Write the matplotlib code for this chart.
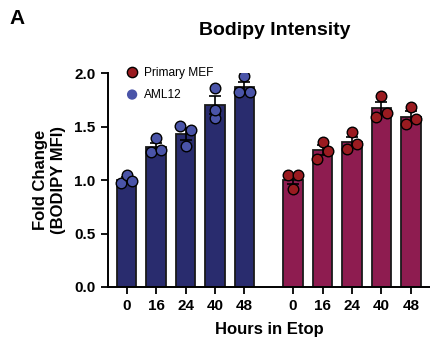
import numpy as np
import matplotlib
matplotlib.use("Agg")
import matplotlib.pyplot as plt

plt.rcParams['font.family'] = ['Liberation Sans', 'DejaVu Sans']
plt.rcParams['font.weight'] = 'bold'

hours = ["0", "16", "24", "40", "48"]
aml12_reps = [
    [0.975, 1.045, 0.995],
    [1.26, 1.39, 1.28],
    [1.51, 1.32, 1.47],
    [1.58, 1.86, 1.66],
    [1.82, 1.97, 1.82],
]
mef_reps = [
    [1.05, 0.915, 1.045],
    [1.20, 1.36, 1.275],
    [1.29, 1.45, 1.34],
    [1.59, 1.79, 1.63],
    [1.52, 1.685, 1.575],
]
legend_labels = ["Primary MEF", "AML12"]

bar_blue = "#292C6E"
pt_blue = "#4A54A8"
bar_red = "#8E1C50"
pt_red = "#9A1B20"

fig = plt.figure(figsize=(4.3, 3.5), dpi=100)
ax = fig.add_axes([0.251, 0.18, 0.749, 0.611])

gap = 0.65
x_blue = np.arange(len(hours))
x_red = np.arange(len(hours)) + len(hours) + gap
spread = np.array([-0.18, 0.0, 0.18])
blue_jit = [spread, spread, spread, spread * 0.0, spread]
red_jit = [spread] * 5
width = 0.66

def draw(xs, reps, jits, bc, pc):
    reps = np.array(reps)
    means = reps.mean(axis=1)
    sems = reps.std(axis=1, ddof=1) / np.sqrt(reps.shape[1])
    ax.bar(xs, means, width=width, color=bc, edgecolor="#1a1a1a", linewidth=1.3, zorder=2)
    ax.errorbar(xs, means, yerr=sems, fmt="none", ecolor="black", elinewidth=1.2,
                capsize=4, capthick=1.2, zorder=3)
    for x, r, j in zip(xs, reps, jits):
        ax.scatter(x + j, r, s=58, color=pc, edgecolor="black", linewidth=1.0, zorder=4)

draw(x_blue, aml12_reps, blue_jit, bar_blue, pt_blue)
draw(x_red, mef_reps, red_jit, bar_red, pt_red)

ax.set_xlim(-0.636, 10.3)
ax.set_ylim(0, 2.0)
ax.set_yticks([0, 0.5, 1.0, 1.5, 2.0])
ax.set_yticklabels(["0.0", "0.5", "1.0", "1.5", "2.0"])
ax.set_xticks(list(x_blue) + list(x_red))
ax.set_xticklabels(hours + hours)
for s in ["top", "right"]:
    ax.spines[s].set_visible(False)
for s in ["left", "bottom"]:
    ax.spines[s].set_linewidth(1.4)
ax.tick_params(axis="both", width=1.3, length=5, labelsize=11, pad=4)
for lab in ax.get_xticklabels() + ax.get_yticklabels():
    lab.set_fontweight("bold")

ax.set_ylabel("Fold Change\n(BODIPY MFI)", fontsize=12, fontweight="bold", labelpad=6)
ax.set_xlabel("Hours in Etop", fontsize=12, fontweight="bold", labelpad=6)

# legend
h1 = ax.scatter([], [], s=55, color=pt_red, edgecolor="black", linewidth=1.0)
h2 = ax.scatter([], [], s=55, color=pt_blue, edgecolor="none")
ax.legend([h1, h2], legend_labels, loc="upper left", bbox_to_anchor=(0.012, 1.07),
          frameon=False, handletextpad=0.0, labelspacing=0.85, borderaxespad=0.3,
          prop={"weight": "normal", "size": 8.6})

fig.text(0.64, 0.913, "Bodipy Intensity", ha="center", va="center", fontsize=14, fontweight="bold")
fig.text(0.023, 0.948, "A", ha="left", va="center", fontsize=15, fontweight="bold")

fig.savefig("out.png", dpi=100)
